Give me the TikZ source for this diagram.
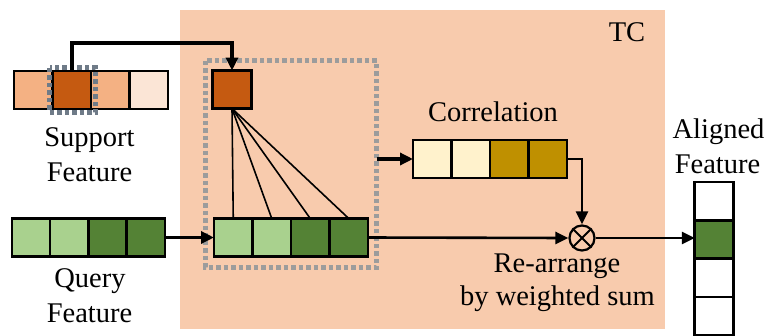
\documentclass[tikz,border=0pt]{standalone}
\usepackage{fontspec}
\setmainfont{Liberation Serif}
\newfontfamily\tnr{Liberation Serif}
\usetikzlibrary{arrows.meta,fit}
\definecolor{tcfill}{HTML}{F8CBAD}
\definecolor{salmon}{HTML}{F4B183}
\definecolor{darkor}{HTML}{C55A11}
\definecolor{paleor}{HTML}{FBE5D6}
\definecolor{lgreen}{HTML}{A9D18E}
\definecolor{dgreen}{HTML}{548235}
\definecolor{lcorr}{HTML}{FFF2CC}
\definecolor{dcorr}{HTML}{BF9000}
\definecolor{dashgray}{HTML}{9C9C9C}
\definecolor{dashblue}{HTML}{6F7B88}
\tikzset{
  cellbox/.style={draw=black, line width=2.6pt, minimum width=38.5pt, minimum height=38pt, inner sep=0pt, outer sep=0pt},
  lbl/.style={anchor=base, inner sep=0pt, font=\tnr\fontsize{28.5}{34}\selectfont},
  thickarrow/.style={line width=3.6pt, -{Triangle[length=13pt,width=12pt]}},
  midarrow/.style={line width=2.6pt, -{Triangle[length=13pt,width=12pt]}},
  fanline/.style={line width=1.6pt},
  dashline/.style={line width=4.5pt, dash pattern=on 4.5pt off 3pt},
  area/.style={draw=none, inner sep=0pt, outer sep=0pt},
}
\begin{document}
\begin{tikzpicture}[x=1pt,y=-1pt]
\useasboundingbox (0,0) rectangle (769,335);
% TC box
\node[area, fill=tcfill, minimum width=485pt, minimum height=319pt, anchor=north west] (tc) at (180,10) {};
\node[lbl] (tclbl) at (627,41.5) {TC};

% support feature
\node[cellbox, fill=salmon] (s1) at (33.25,90) {};
\node[cellbox, fill=darkor] (s2) at (71.75,90) {};
\node[cellbox, fill=salmon] (s3) at (110.25,90) {};
\node[cellbox, fill=paleor] (s4) at (148.75,90) {};
\node[area, minimum width=46pt, minimum height=45pt] (sdash) at (72.5,90) {};
\draw[dashline, draw=dashblue] (sdash.north west) rectangle (sdash.south east);
\node[lbl] (suplbl) at (89.5,146) {Support};
\node[lbl] (supflbl) at (89.5,181) {Feature};

% query feature (left)
\node[cellbox, fill=lgreen] (l1) at (31.1,237.5) {};
\node[cellbox, fill=lgreen] (l2) at (69.4,237.5) {};
\node[cellbox, fill=dgreen] (l3) at (107.6,237.5) {};
\node[cellbox, fill=dgreen] (l4) at (145.9,237.5) {};
\node[lbl] (qlbl) at (90,287) {Query};
\node[lbl] (qflbl) at (89.5,322) {Feature};

% inner top box and query row
\node[cellbox, fill=darkor] (t) at (232,89.5) {};
\node[cellbox, fill=lgreen] (q1) at (233.25,237.5) {};
\node[cellbox, fill=lgreen] (q2) at (271.75,237.5) {};
\node[cellbox, fill=dgreen] (q3) at (310.25,237.5) {};
\node[cellbox, fill=dgreen] (q4) at (348.75,237.5) {};
\node[area, minimum width=171pt, minimum height=207pt] (bigdash) at (291,164) {};
\draw[dashline, draw=dashgray] (bigdash.north west) rectangle (bigdash.south east);

% fan lines
\foreach \c in {q1,q2,q3,q4} \draw[fanline] (t.south) -- (\c.north);

% correlation
\node[lbl] (corrlbl) at (493,121.5) {Correlation};
\node[cellbox, fill=lcorr] (c1) at (432.25,159) {};
\node[cellbox, fill=lcorr] (c2) at (470.75,159) {};
\node[cellbox, fill=dcorr] (c3) at (509.25,159) {};
\node[cellbox, fill=dcorr] (c4) at (547.75,159) {};

% otimes
\node[draw=black, line width=2.2pt, circle, minimum size=25pt, inner sep=0pt, fill=tcfill] (ot) at (582,238) {};
\draw[line width=1.8pt] (ot.north west) -- (ot.south east) (ot.north east) -- (ot.south west);

\node[lbl] (rlbl) at (557,272.5) {Re-arrange};
\node[lbl] (wlbl) at (557.5,305) {by weighted sum};

% aligned feature
\node[lbl] (alblbl) at (718.5,138) {Aligned};
\node[lbl] (alflbl) at (717.5,173) {Feature};
\node[cellbox, fill=white] (a1) at (714,201) {};
\node[cellbox, fill=dgreen] (a2) at (714,239.5) {};
\node[cellbox, fill=white] (a3) at (714,278) {};
\node[cellbox, fill=white] (a4) at (714,316) {};

% connectors
\draw[thickarrow] (s2.north) |- (72,43) -| (t.north);
\draw[thickarrow] (l4.east) -- (q1.west);
\draw[thickarrow] (c1.west -| bigdash.east) -- (c1.west);
\draw[midarrow] (c4.east) -| (ot.north);
\draw[midarrow] (q4.east) -- (ot.west);
\draw[midarrow] (ot.east) -- (ot.east -| a2.west);
\end{tikzpicture}
\end{document}
